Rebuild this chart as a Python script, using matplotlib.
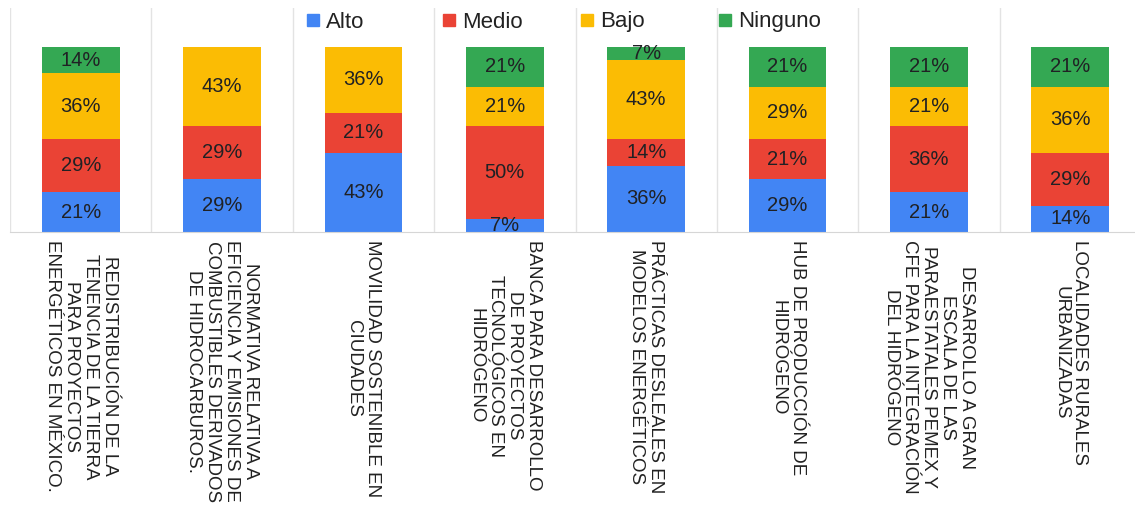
import numpy as np
import matplotlib
matplotlib.use("Agg")
import matplotlib.pyplot as plt
from matplotlib.lines import Line2D

plt.rcParams['font.family'] = ['Liberation Sans', 'DejaVu Sans']

# Categories (left to right)
categories = [
    "REDISTRIBUCIÓN DE LA\nTENENCIA DE LA TIERRA\nPARA PROYECTOS\nENERGÉTICOS EN MÉXICO.",
    "NORMATIVA RELATIVA A\nEFICIENCIA Y EMISIONES DE\nCOMBUSTIBLES DERIVADOS\nDE HIDROCARBUROS.",
    "MOVILIDAD SOSTENIBLE EN\nCIUDADES",
    "BANCA PARA DESARROLLO\nDE PROYECTOS\nTECNOLÓGICOS EN\nHIDRÓGENO",
    "PRÁCTICAS DESLEALES EN\nMODELOS ENERGÉTICOS",
    "HUB DE PRODUCCIÓN DE\nHIDRÓGENO",
    "DESARROLLO A GRAN\nESCALA DE LAS\nPARAESTATALES PEMEX Y\nCFE PARA LA INTEGRACIÓN\nDEL HIDRÓGENO",
    "LOCALIDADES RURALES\nURBANIZADAS",
]
# number of responses per level (14 respondents per category)
alto = [3, 4, 6, 1, 5, 4, 3, 2]
medio = [4, 4, 3, 7, 2, 3, 5, 4]
bajo = [5, 6, 5, 3, 6, 4, 3, 5]
ninguno = [2, 0, 0, 3, 1, 3, 3, 3]

series_names = ["Alto", "Medio", "Bajo", "Ninguno"]
series_vals = [alto, medio, bajo, ninguno]
colors = ["#4285F4", "#EA4335", "#FBBC04", "#34A853"]

totals = np.sum(series_vals, axis=0)

W, H = 1135, 512
fig = plt.figure(figsize=(W / 100, H / 100), dpi=100)
ax = fig.add_axes([10 / W, (H - 232) / H, 1131 / W, 224 / H])

x = np.arange(len(categories))
bottom = np.zeros(len(categories))
for name, vals, col in zip(series_names, series_vals, colors):
    pct = 100 * np.array(vals, dtype=float) / totals
    ax.bar(x, pct, width=0.55, bottom=bottom, color=col, label=name, zorder=2)
    for xi, b, v in zip(x, bottom, pct):
        if v > 0:
            ax.text(xi, b + v / 2, f"{v:.0f}%", ha='center', va='center',
                    fontsize=14.5, color='#202124', zorder=3)
    bottom += pct

ax.set_xlim(-0.5, len(categories) - 0.5)
ax.set_ylim(0, 121)

# light separators between categories
for b in np.arange(-0.5, len(categories), 1.0):
    ax.axvline(b, color='#e3e3e3', lw=1, zorder=1)

for s in ['top', 'left', 'right']:
    ax.spines[s].set_visible(False)
ax.spines['bottom'].set_color('#d6d6d6')
ax.set_yticks([])
ax.set_xticks(x)
ax.set_xticklabels(categories, rotation=270, ha='center', va='top',
                   fontsize=13.5, linespacing=1.15, multialignment='center',
                   color='#222222')
ax.tick_params(axis='x', length=0, pad=6)

# legend entries placed one by one along the top
legend_x = [305, 441, 579, 717]
for name, col, lx in zip(series_names, colors, legend_x):
    h = Line2D([], [], marker='s', color=col, linestyle='None', markersize=8)
    fig.legend([h], [name], loc='center left',
               bbox_to_anchor=(lx / W, 1 - 22 / H), frameon=False,
               fontsize=16, handlelength=0.7, handletextpad=0.25,
               borderpad=0, borderaxespad=0, labelcolor='#222222')

fig.savefig("out.png", dpi=100)
